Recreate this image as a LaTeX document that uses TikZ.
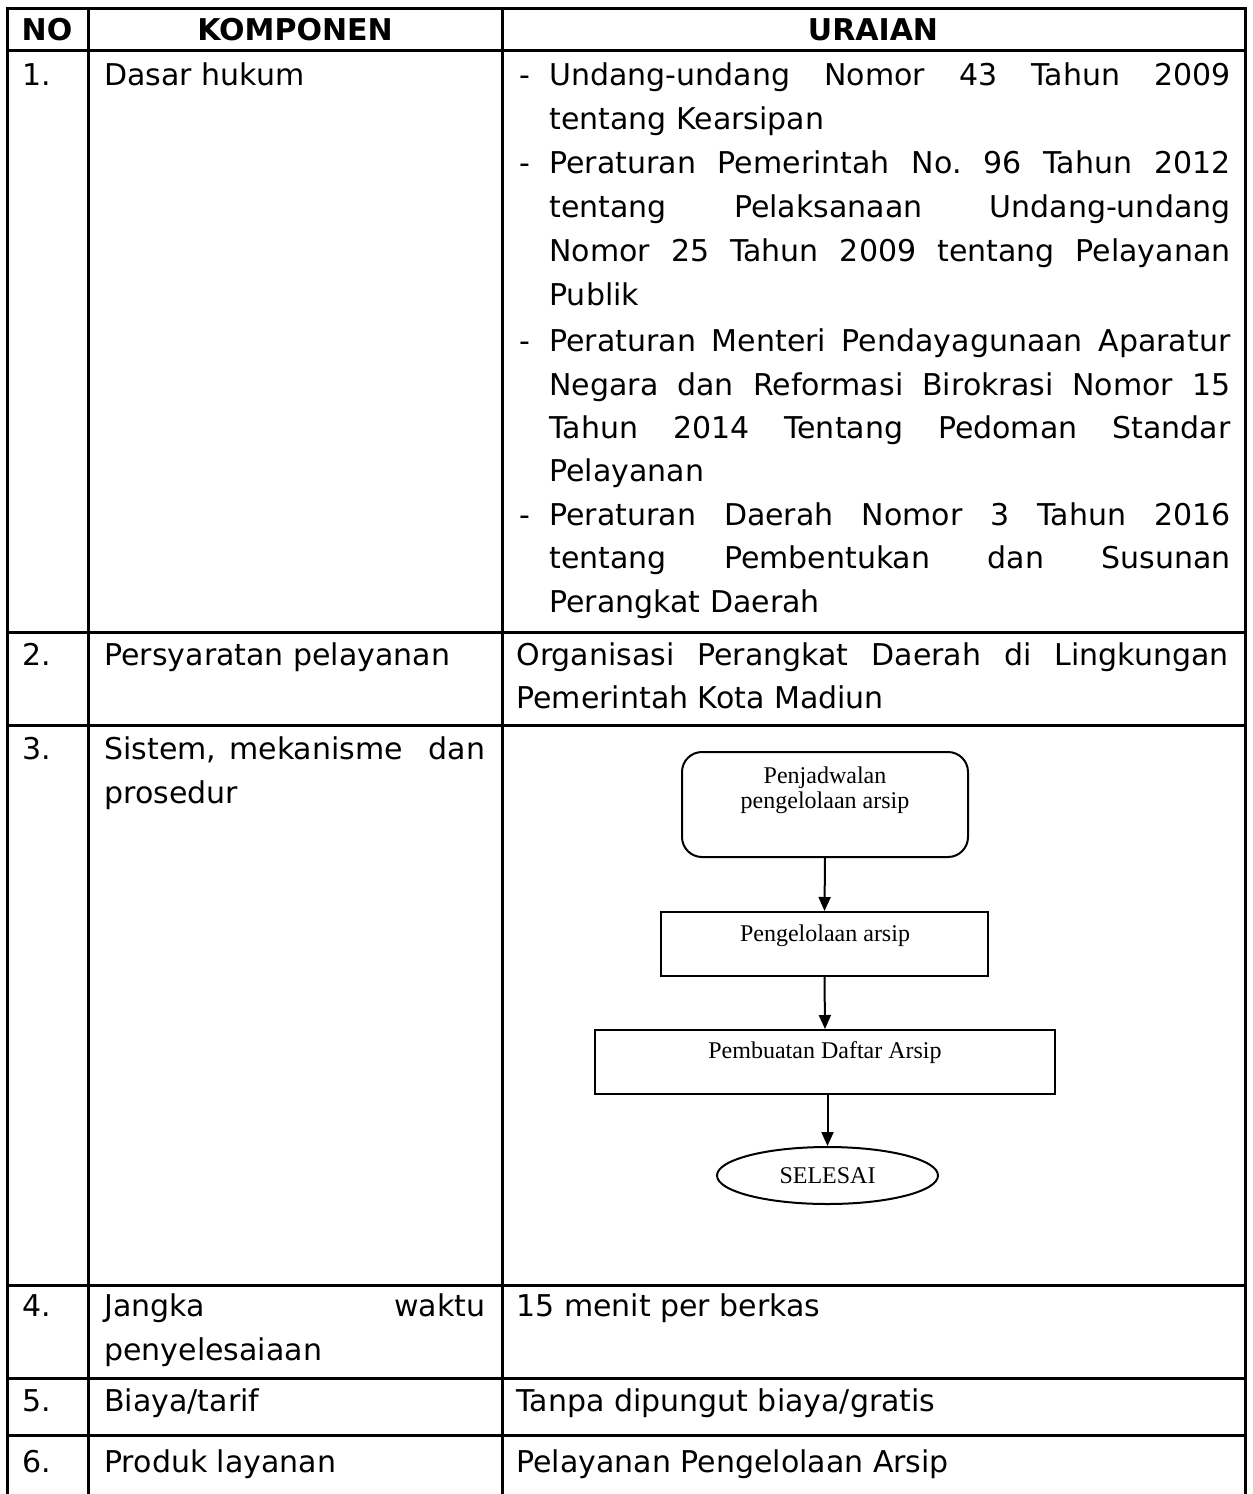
\documentclass[tikz,border=0pt]{standalone}
\usepackage{fontspec}
\setmainfont{DejaVu Sans}
\newfontfamily\fcfont{Liberation Serif}
\usetikzlibrary{arrows.meta,shapes.geometric}
\frenchspacing

% a justified line: interword spaces stretched to the given width
\newcommand{\jline}[2]{\makebox[#1][s]{#2}}

\tikzset{
  grid/.style={line width=1.5pt},
  txt/.style={anchor=base west, inner sep=0pt, font=\fontsize{15}{18}\selectfont},
  hdr/.style={anchor=base, inner sep=0pt, font=\fontsize{15}{18}\selectfont\bfseries},
  fcbox/.style={draw, line width=1pt, inner sep=0pt},
  fctext/.style={anchor=base, inner sep=0pt, font=\fcfont\fontsize{12}{14}\selectfont},
  flow/.style={-{Triangle[length=7pt,width=6pt]}, line width=1pt},
}

\begin{document}
\begin{tikzpicture}[x=0.5pt, y=-0.5pt]
\useasboundingbox (0,0) rectangle (1253,1494);

% table rules
\draw[grid] (7,1494) -- (7,8) -- (1245,8) -- (1245,1494);
\draw[grid] (88,8) -- (88,1494);
\draw[grid] (502,8) -- (502,1494);
\foreach \yy in {50,632,725,1285,1378,1435}
  \draw[grid] (7,\yy) -- (1245,\yy);

% header
\node[hdr] (hNo)   at (47,40)  {NO};
\node[hdr] (hKomp) at (295,40) {KOMPONEN};
\node[hdr] (hUr)   at (873,40) {URAIAN};

% row 1
\node[txt] (n1) at (22,85)  {1.};
\node[txt] (k1) at (104,85) {Dasar hukum};
\node[txt] (d1a) at (519,85)  {-};
\node[txt] (d1b) at (519,173) {-};
\node[txt] (d1c) at (519,351) {-};
\node[txt] (d1d) at (519,525) {-};
\node[txt] (u1a) at (549,85)  {\jline{340.5pt}{Undang-undang Nomor 43 Tahun 2009}};
\node[txt] (u1b) at (549,129) {tentang Kearsipan};
\node[txt] (u1c) at (549,173) {\jline{340.5pt}{Peraturan Pemerintah No. 96 Tahun 2012}};
\node[txt] (u1d) at (549,217) {\jline{340.5pt}{tentang Pelaksanaan Undang-undang}};
\node[txt] (u1e) at (549,261) {\jline{340.5pt}{Nomor 25 Tahun 2009 tentang Pelayanan}};
\node[txt] (u1f) at (549,305) {Publik};
\node[txt] (u1g) at (549,351) {\jline{340.5pt}{Peraturan Menteri Pendayagunaan Aparatur}};
\node[txt] (u1h) at (549,395) {\jline{340.5pt}{Negara dan Reformasi Birokrasi Nomor 15}};
\node[txt] (u1i) at (549,438) {\jline{340.5pt}{Tahun 2014 Tentang Pedoman Standar}};
\node[txt] (u1j) at (549,481) {Pelayanan};
\node[txt] (u1k) at (549,525) {\jline{340.5pt}{Peraturan Daerah Nomor 3 Tahun 2016}};
\node[txt] (u1l) at (549,568) {\jline{340.5pt}{tentang Pembentukan dan Susunan}};
\node[txt] (u1m) at (549,612) {Perangkat Daerah};

% row 2
\node[txt] (n2) at (22,665)  {2.};
\node[txt] (k2) at (104,665) {Persyaratan pelayanan};
\node[txt] (u2a) at (516,665) {\jline{356pt}{Organisasi Perangkat Daerah di Lingkungan}};
\node[txt] (u2b) at (516,708) {Pemerintah Kota Madiun};

% row 3
\node[txt] (n3) at (22,759)  {3.};
\node[txt] (k3a) at (104,759) {\jline{190.5pt}{Sistem, mekanisme\ \ dan}};
\node[txt] (k3b) at (104,803) {prosedur};

% row 3: flowchart
\node[fcbox, rounded corners=10pt, minimum width=143pt, minimum height=52.5pt] (s1) at (825,804.5) {};
\node[fctext] (t1a) at (825,783) {Penjadwalan};
\node[fctext] (t1b) at (825,808) {pengelolaan arsip};
\node[fcbox, minimum width=163.5pt, minimum height=32pt] (s2) at (824.5,944) {};
\node[fctext] (t2) at (825,941) {Pengelolaan arsip};
\node[fcbox, minimum width=230pt, minimum height=32pt] (s3) at (825,1062) {};
\node[fctext] (t3) at (825,1058) {Pembuatan Daftar Arsip};
\node[fcbox, ellipse, minimum width=110.5pt, minimum height=28.5pt,
      font=\fcfont\fontsize{12}{14}\selectfont] (s4) at (827.5,1175.5) {SELESAI};
\draw[flow] (s1.south) -- (s2.north);
\draw[flow] (s2.south) -- (s3.north);
\draw[flow] (s3.south -| s4.north) -- (s4.north);

% row 4
\node[txt] (n4) at (22,1316)  {4.};
\node[txt] (k4a) at (104,1316) {\jline{190.5pt}{Jangka waktu}};
\node[txt] (k4b) at (104,1360) {penyelesaiaan};
\node[txt] (u4) at (516,1316) {15 menit per berkas};

% row 5
\node[txt] (n5) at (22,1411)  {5.};
\node[txt] (k5) at (104,1411) {Biaya/tarif};
\node[txt] (u5) at (516,1411) {Tanpa dipungut biaya/gratis};

% row 6
\node[txt] (n6) at (22,1472)  {6.};
\node[txt] (k6) at (104,1472) {Produk layanan};
\node[txt] (u6) at (516,1472) {Pelayanan Pengelolaan Arsip};
\end{tikzpicture}
\end{document}
